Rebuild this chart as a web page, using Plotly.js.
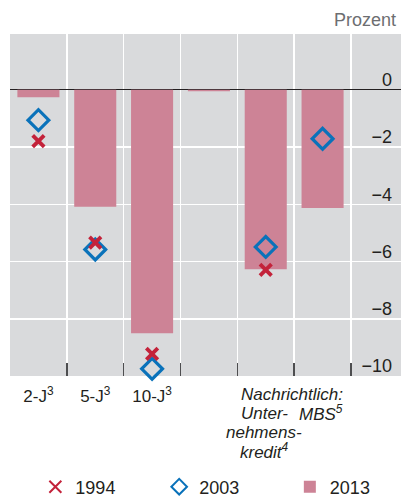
<!DOCTYPE html>
<html>
<head>
<meta charset="utf-8">
<script src="https://cdn.plot.ly/plotly-3.0.1.min.js"></script>
<style>html,body{margin:0;padding:0;background:#fff;}#chart{width:401px;height:497px;}</style>
</head>
<body>
<div id="chart"></div>
<script>
// ---- data ----
const positions = [0, 1, 2, 3, 4, 5];
const tickLabels = ['2-J<sup>3</sup>', '5-J<sup>3</sup>', '10-J<sup>3</sup>'];
const memoHeader = 'Nachrichtlich:';
const memoLabelCorp = ['Unter-', 'nehmens-', 'kredit<sup>4</sup>'];
const memoLabelMBS = 'MBS<sup>5</sup>';
const values1994 = [-1.79, -5.34, -9.23, null, -6.29, null];
const values2003 = [-1.06, -5.58, -9.75, null, -5.49, -1.71];
const values2013 = [-0.26, -4.09, -8.51, -0.05, -6.27, -4.13];
const seriesNames = ['1994', '2003', '2013'];
const yTicks = [0, -2, -4, -6, -8, -10];
const unitLabel = 'Prozent';

const txt = '#231f20';
const font = 'Liberation Sans, Arial, Helvetica, sans-serif';

const traces = [
  {type: 'bar', x: positions, y: values2013, name: seriesNames[2], width: 0.74,
   marker: {color: '#cd8396'}, legend: 'legend3', hoverinfo: 'skip'},
  {type: 'scatter', mode: 'markers', x: positions, y: values2003, name: seriesNames[1],
   marker: {symbol: 'diamond-open', size: 16, color: '#0a72ba', line: {width: 3.2, color: '#0a72ba'}},
   cliponaxis: false, legend: 'legend2'},
  {type: 'scatter', mode: 'markers', x: positions, y: values1994, name: seriesNames[0],
   marker: {symbol: 'x-thin', size: 11.5, color: '#c3223a', line: {width: 3.8, color: '#c3223a'}},
   cliponaxis: false, legend: 'legend'}
];

const boundaries = positions.map(p => p + 0.5);

const annotations = [
  {text: unitLabel, xref: 'paper', yref: 'paper', x: 1, y: 1, xanchor: 'right', yanchor: 'middle',
   xshift: -3, yshift: 14, showarrow: false, font: {size: 18, color: '#6d6e71', family: font}},
  {text: '<i>' + memoHeader + '</i>', xref: 'x', yref: 'paper', x: 4.47, y: 0, yanchor: 'middle',
   yshift: -18, showarrow: false, font: {size: 17, color: txt, family: font}},
  {text: '<i>' + memoLabelMBS + '</i>', xref: 'x', yref: 'paper', x: 4.98, y: 0, yanchor: 'middle',
   yshift: -37, showarrow: false, font: {size: 17, color: txt, family: font}}
];
memoLabelCorp.forEach((t, i) => {
  annotations.push({text: '<i>' + t + '</i>', xref: 'x', yref: 'paper', x: 3.97, y: 0, yanchor: 'middle',
    yshift: -37 - 19 * i, showarrow: false, font: {size: 17, color: txt, family: font}});
});

function legendAt(px) {
  return {orientation: 'h', x: px / 401, xanchor: 'left', y: 10 / 497, yref: 'container', yanchor: 'middle',
    font: {size: 18, color: txt, family: font}, itemsizing: 'constant', bgcolor: 'rgba(0,0,0,0)'};
}

const layout = {
  width: 401, height: 497,
  margin: {l: 10, r: 0, t: 34, b: 121, pad: 0},
  paper_bgcolor: '#ffffff', plot_bgcolor: '#d9dadc',
  font: {family: font, color: txt},
  showlegend: true,
  legend: legendAt(26),
  legend2: legendAt(153),
  legend3: legendAt(287),
  xaxis: {type: 'linear', range: [-0.5, 6.38], tickmode: 'array', tickvals: [0, 1, 2], ticktext: tickLabels,
    showgrid: false, zeroline: false, ticks: '', showline: false, fixedrange: true, ticklabelstandoff: 8,
    tickfont: {size: 17, color: txt, family: font},
    minor: {tickmode: 'array', tickvals: boundaries, showgrid: true, gridcolor: '#ffffff', gridwidth: 1.5,
      ticks: 'inside', ticklen: 13, tickwidth: 1.5, tickcolor: '#4d4d4f'}},
  yaxis: {side: 'right', range: [-10, 1.95], tickmode: 'array', tickvals: yTicks,
    ticklabelposition: 'inside', ticklabelshift: -10, ticklabelstandoff: 6, ticklabeloverflow: 'allow', ticks: '',
    tickfont: {size: 18, color: txt, family: font},
    showgrid: true, gridcolor: '#ffffff', gridwidth: 1.5,
    zeroline: true, zerolinecolor: txt, zerolinewidth: 1.2, showline: false, fixedrange: true},
  annotations: annotations
};

Plotly.newPlot('chart', traces, layout, {displayModeBar: false, staticPlot: true});
</script>
</body>
</html>
